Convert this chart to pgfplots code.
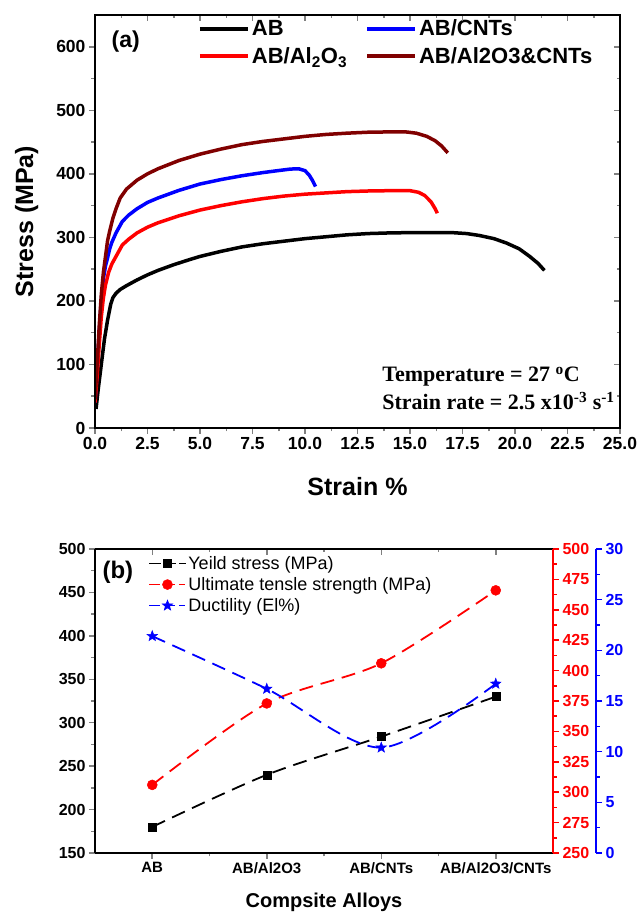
\documentclass[border=0pt]{standalone}
\usepackage{pgfplots}
\pgfplotsset{compat=1.18}
\usepackage{fontspec}
\setmainfont{Liberation Sans}
\newfontfamily\timesfont{Liberation Serif}
\definecolor{maroon}{RGB}{128,0,0}
\newcommand{\fs}[1]{\fontsize{#1}{#1}\selectfont}
\pgfdeclareplotmark{fstar}{%
  \pgfpathmoveto{\pgfpointpolar{90}{\pgfplotmarksize}}%
  \pgfpathlineto{\pgfpointpolar{126}{0.42\pgfplotmarksize}}%
  \pgfpathlineto{\pgfpointpolar{162}{\pgfplotmarksize}}%
  \pgfpathlineto{\pgfpointpolar{198}{0.42\pgfplotmarksize}}%
  \pgfpathlineto{\pgfpointpolar{234}{\pgfplotmarksize}}%
  \pgfpathlineto{\pgfpointpolar{270}{0.42\pgfplotmarksize}}%
  \pgfpathlineto{\pgfpointpolar{306}{\pgfplotmarksize}}%
  \pgfpathlineto{\pgfpointpolar{342}{0.42\pgfplotmarksize}}%
  \pgfpathlineto{\pgfpointpolar{18}{\pgfplotmarksize}}%
  \pgfpathlineto{\pgfpointpolar{54}{0.42\pgfplotmarksize}}%
  \pgfpathclose
  \pgfusepathqfillstroke}
\pgfplotsset{
  myaxis/.style={scale only axis, /pgf/number format/assume math mode=true,
    axis line style={line width=1.5pt},
    major tick length=6pt, minor tick length=3.5pt,
    tick style={line width=1.5pt}},
}
\begin{document}
\begin{tikzpicture}[x=1pt,y=1pt]
\useasboundingbox (0,0) rectangle (642,913);
% ---------------- panel (a) ----------------
\begin{axis}[myaxis, at={(95pt,485pt)}, anchor=south west, width=525pt, height=413pt,
  xmin=0, xmax=25, ymin=0, ymax=650,
  xtick={0,2.5,...,25}, ytick={0,100,...,600}, minor x tick num=1, minor y tick num=1,
  xtick pos=left, ytick pos=left, tick align=outside,
  xticklabel style={/pgf/number format/fixed, /pgf/number format/fixed zerofill, /pgf/number format/precision=1},
  tick label style={font=\bfseries\fs{17.5}},
  xlabel={Strain \%}, ylabel={Stress (MPa)}, label style={font=\bfseries\fs{25}},
  xlabel style={at={(axis description cs:0.5,-0.143)}, anchor=center},
  ylabel style={at={(axis description cs:-0.13,0.5)}, anchor=center},
  legend columns=2, legend cell align=left,
  legend style={draw=none, fill=none, at={(0.19,0.998)}, anchor=north west, font=\bfseries\fs{22},
    /tikz/every even column/.append style={column sep=16pt}, row sep=6pt},
  legend image code/.code={\draw[#1, line width=4pt] (0pt,0pt) -- (48pt,0pt);},
]
\addplot[black, line width=3.5pt] coordinates {
(0.05,30) (0.15,60) (0.3,100) (0.45,140) (0.6,170) (0.75,195) (0.85,205) (1.0,212) (1.2,218)
(1.5,224) (2.0,233) (2.5,241) (3.0,248) (3.75,257) (4.5,265) (5.0,270) (6.0,278) (7.0,285)
(8.0,290) (9.0,294) (10.0,298) (11.0,301) (12.0,304) (13.0,306) (14.0,307) (15.0,307.5)
(16.0,307.5) (17.0,307.5) (17.7,306) (18.3,303) (19.0,298) (19.6,291) (20.2,282) (20.7,270)
(21.1,259) (21.4,248)};
\addlegendentry{AB}
\addplot[blue, line width=3.5pt] coordinates {
(0.0,40) (0.1,90) (0.2,150) (0.3,200) (0.4,235) (0.5,255) (0.6,268) (0.7,282) (0.8,292)
(1.0,307) (1.3,325) (1.6,335) (2.0,345) (2.5,355) (3.0,362) (4.0,374) (5.0,384) (6.0,391)
(7.0,397) (8.0,402) (8.7,405) (9.3,407.5) (9.7,408) (10.0,405) (10.2,398) (10.35,390) (10.5,380)};
\addlegendentry{AB/CNTs}
\addplot[red, line width=3.5pt] coordinates {
(0.0,40) (0.1,80) (0.2,130) (0.3,175) (0.4,205) (0.5,225) (0.65,245) (0.8,258) (1.0,270)
(1.3,288) (1.6,297) (2.0,307) (2.5,316) (3.0,323) (4.0,334) (5.0,343) (6.0,350) (7.0,356)
(8.0,361) (9.0,365) (10.0,368) (11.0,370) (12.0,372) (13.0,373) (14.0,373.5) (15.0,373.5)
(15.4,371) (15.7,366) (16.0,356) (16.2,345) (16.3,338)};
\addlegendentry{AB/Al\textsubscript{2}O\textsubscript{3}}
\addplot[maroon, line width=3.5pt] coordinates {
(0.0,45) (0.1,100) (0.2,160) (0.3,210) (0.4,245) (0.5,270) (0.6,295) (0.7,310) (0.85,330)
(1.0,345) (1.2,362) (1.5,376) (2.0,390) (2.5,400) (3.0,408) (4.0,421) (5.0,431) (6.0,439)
(7.0,446) (8.0,451) (9.0,455) (10.0,459) (11.0,462) (12.0,464) (13.0,465.5) (14.0,466)
(14.8,466) (15.3,464) (15.8,459) (16.2,452) (16.5,444) (16.8,433)};
\addlegendentry{AB/Al2O3\&CNTs}
\node[font=\bfseries\fs{23}, anchor=west] at (rel axis cs:0.025,0.935) {(a)};
\node[font=\timesfont\bfseries\fontsize{22}{28}\selectfont, anchor=north west, align=left, inner sep=0pt]
  at (rel axis cs:0.547,0.148) {Temperature = 27 \textsuperscript{o}C\\Strain rate = 2.5 x10\textsuperscript{-3} s\textsuperscript{-1}};
\end{axis}
\begin{axis}[myaxis, at={(95pt,485pt)}, anchor=south west, width=525pt, height=413pt,
  xmin=0, xmax=25, ymin=0, ymax=650,
  xtick={0,2.5,...,25}, ytick={0,100,...,600}, minor x tick num=1, minor y tick num=1,
  xtick pos=right, ytick pos=right, tick align=inside, xticklabels={}, yticklabels={}]
\end{axis}
% ---------------- panel (b) ----------------
\begin{axis}[myaxis, at={(95pt,60pt)}, anchor=south west, width=458pt, height=304pt,
  xmin=-0.5, xmax=3.5, ymin=150, ymax=500,
  xtick={0,1,2,3}, xticklabels={AB,AB/Al2O3,AB/CNTs,AB/Al2O3/CNTs},
  minor xtick={0.5,1.5,2.5},
  ytick={150,200,...,500}, minor y tick num=1,
  axis y line*=left, xtick pos=left, tick align=outside,
  yticklabel style={font=\bfseries\fs{16}},
  xticklabel style={font=\bfseries\fs{15}},
  xlabel={Compsite Alloys}, xlabel style={font=\bfseries\fs{20}, at={(axis description cs:0.5,-0.161)}, anchor=center},
  legend cell align=left,
  legend style={draw=none, fill=none, at={(0.11,0.99)}, anchor=north west, font=\fs{18}, row sep=2.5pt},
  legend image code/.code={\draw[mark repeat=2, mark phase=2, #1, dash pattern=on 11pt off 4pt] plot coordinates {(0pt,0pt) (18pt,0pt) (36pt,0pt)};},
]
\addplot[black, line width=1.8pt, dash pattern=on 14pt off 8pt, smooth, mark=square*, mark size=4pt, mark options={solid, line width=0.5pt}]
  coordinates {(0,180) (1,240) (2,284) (3,330)};
\addlegendentry{Yeild stress (MPa)}
\addlegendimage{red, line width=1.8pt, mark=*, mark size=5pt, mark options={solid, line width=0.5pt}}
\addlegendentry{Ultimate tensle strength (MPa)}
\addlegendimage{blue, line width=1.8pt, mark=fstar, mark size=5.5pt, mark options={solid, line width=0.5pt}}
\addlegendentry{Ductility (El\%)}
\node[font=\bfseries\fs{24}] at (rel axis cs:0.05,0.924) {(b)};
\end{axis}
\begin{axis}[myaxis, at={(95pt,60pt)}, anchor=south west, width=458pt, height=304pt,
  xmin=-0.5, xmax=3.5, ymin=150, ymax=500,
  axis x line*=top, axis y line=none, xtick={0,1,2,3}, minor xtick={0.5,1.5,2.5},
  tick align=inside, xticklabels={}]
\end{axis}
\begin{axis}[myaxis, at={(95pt,60pt)}, anchor=south west, width=458pt, height=304pt,
  xmin=-0.5, xmax=3.5, ymin=250, ymax=500,
  ytick={250,275,...,500}, minor y tick num=1,
  axis y line*=right, axis x line=none, tick align=outside,
  y axis line style={red, line width=1.5pt}, ytick style={red, line width=1.5pt},
  yticklabel style={red, font=\bfseries\fs{16}}]
\addplot[red, line width=1.8pt, dash pattern=on 14pt off 8pt, smooth, mark=*, mark size=5pt, mark options={solid, line width=0.5pt}]
  coordinates {(0,306) (1,373) (2,406) (3,466)};
\end{axis}
\begin{axis}[myaxis, at={(95pt,60pt)}, anchor=south west, width=501pt, height=304pt,
  xmin=-0.5, xmax=3.8755, ymin=0, ymax=30,
  ytick={0,5,...,30}, minor y tick num=1,
  axis y line*=right, axis x line=none, tick align=outside,
  y axis line style={blue, line width=1.5pt}, ytick style={blue, line width=1.5pt},
  yticklabel style={blue, font=\bfseries\fs{16}}]
\addplot[blue, line width=1.8pt, dash pattern=on 14pt off 8pt, smooth, mark=fstar, mark size=5.5pt, mark options={solid, line width=0.5pt}]
  coordinates {(0,21.4) (1,16.2) (2,10.4) (3,16.7)};
\end{axis}
\end{tikzpicture}
\end{document}
